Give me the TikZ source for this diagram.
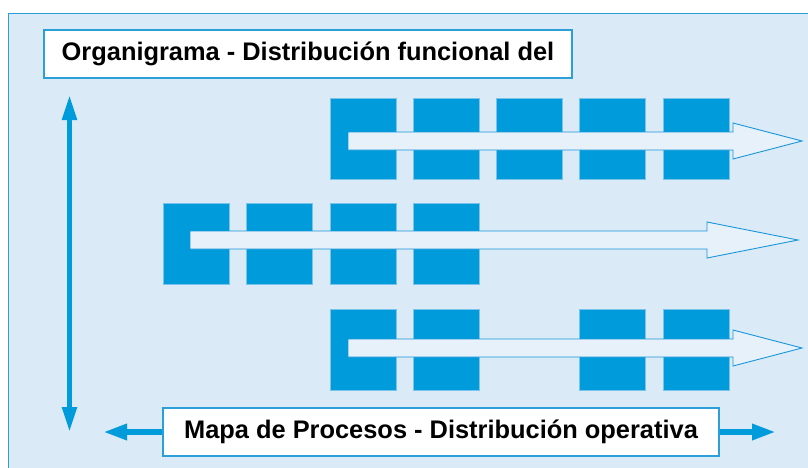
\documentclass[tikz,border=0pt]{standalone}
\usepackage{fontspec}
\setmainfont{Liberation Sans}
\newfontfamily\labfont{Liberation Sans Bold}
\usetikzlibrary{arrows.meta}
\definecolor{bgblue}{HTML}{DAEBF7}
\definecolor{frameblue}{HTML}{2A9FD8}
\definecolor{blockblue}{HTML}{009BDB}
\definecolor{blockedge}{HTML}{7CC3EB}
\definecolor{shaftfill}{HTML}{E6F1FA}
\definecolor{shaftedge}{HTML}{1A96D8}
\tikzset{
  blockbox/.style={fill=blockblue, draw=blockedge, line width=1pt},
  procarrow/.style={fill=shaftfill, draw=shaftedge, line width=0.9pt, line join=miter},
  labelbox/.style={draw=frameblue, fill=white, line width=1.2pt, minimum height=48pt, inner sep=0pt, font=\labfont\fontsize{25.4}{30}\selectfont},
  axisarrow/.style={draw=blockblue, line width=5pt, -{Triangle[length=25pt,width=14pt]}},
}
\newcommand{\blockrow}[2]{%
  \foreach \bx in {#1} {\path[blockbox] (\bx,#2) rectangle ++(66,81);}}
% start x, head base x, tip x, centre y
\newcommand{\flowarrow}[4]{%
  \path[procarrow] (#1,#4-9) -- (#2,#4-9) -- (#2,#4-18) -- (#3,#4) -- (#2,#4+18) -- (#2,#4+9) -- (#1,#4+9) -- cycle;}
\begin{document}
\begin{tikzpicture}[x=1pt,y=-1pt]
\useasboundingbox (0,0) rectangle (808,467);
\path[fill=white] (0,0) rectangle (808,467);
\path[fill=bgblue, draw=frameblue, line width=1.2pt] (8.5,13.5) rectangle (820,480);
% blocks
\blockrow{330,413,496,579,663}{98}
\blockrow{163,246,330,413}{203.5}
\blockrow{330,413,579,663}{309}
% flow arrows
\flowarrow{348}{733}{802}{141}
\flowarrow{190}{707}{798}{240}
\flowarrow{348}{733}{802}{348}
% labels
\node[labelbox, minimum width=528pt] (org) at (308,54) {Organigrama - Distribución funcional del};
\node[labelbox, minimum width=556pt] (map) at (441,432) {Mapa de Procesos - Distribución operativa};
% axes
\coordinate (vtop) at (69.5,95);
\coordinate (vbot) at (69.5,432);
\coordinate (hleft) at (103,432);
\coordinate (hright) at (776,432);
\draw[axisarrow] (69.5,263) -- (vtop);
\draw[axisarrow] (69.5,263) -- (vbot);
\draw[axisarrow, line width=6pt, -{Triangle[length=24pt,width=15pt]}] (map.west) -- (hleft);
\draw[axisarrow, line width=6pt, -{Triangle[length=24pt,width=15pt]}] (map.east) -- (hright);
\end{tikzpicture}
\end{document}
